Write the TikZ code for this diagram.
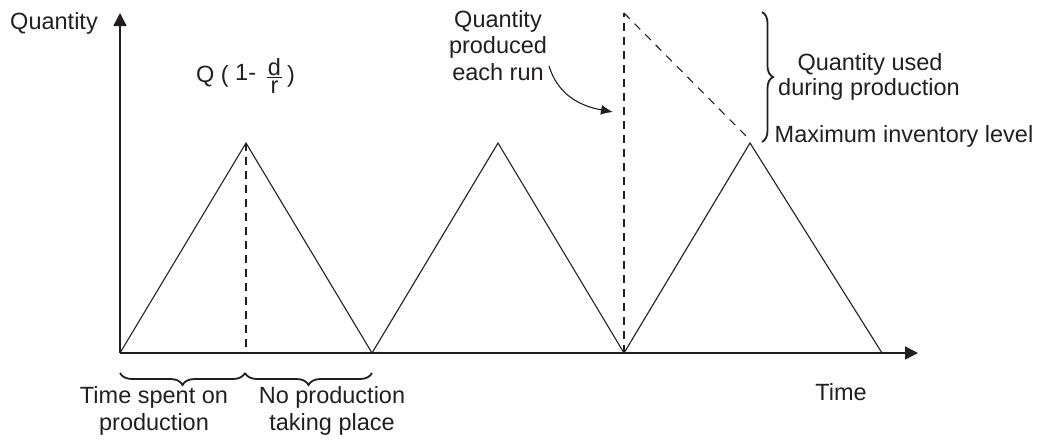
\documentclass[tikz,border=0pt]{standalone}
\usepackage{fontspec}
\setmainfont{Liberation Sans}
\usetikzlibrary{arrows.meta,decorations.pathreplacing}
\definecolor{ink}{RGB}{35,31,32}
\begin{document}
\begin{tikzpicture}[x=1pt,y=-1pt,
  lbl/.style={font=\fontsize{23.5}{28}\selectfont, inner sep=0pt, anchor=base, text=ink},
  axisline/.style={draw=ink, line width=1.6pt, -{Triangle[length=13pt,width=13pt]}},
  stock/.style={draw=ink, line width=1.1pt, line join=miter},
  dashv/.style={draw=ink, line width=1.8pt, dash pattern=on 8pt off 6pt},
  dashd/.style={draw=ink, line width=1.1pt, dash pattern=on 8pt off 7pt},
  pointer/.style={draw=ink, line width=1.1pt, -{Latex[length=12pt,width=10pt]}},
  bracer/.style={draw=ink, line width=1.8pt, decorate, decoration={brace, amplitude=11pt}},
  braced/.style={draw=ink, line width=1.8pt, decorate, decoration={brace, mirror, amplitude=12pt}}]
\useasboundingbox (0,0) rectangle (1043,440);

% key points
\coordinate (O) at (120,353);
\coordinate (ytip) at (120,13);
\coordinate (xtip) at (918,353);
\coordinate (p1) at (246,143);
\coordinate (v1) at (372,353);
\coordinate (p2) at (498,143);
\coordinate (v2) at (624,353);
\coordinate (p3) at (750,143);
\coordinate (e) at (882,353);
\coordinate (b1) at (246,353);
\coordinate (top) at (624,13);
\coordinate (dend) at (747,137);

% axes
\draw[axisline] (O) -- (ytip);
\draw[axisline] (O) -- (xtip);

% inventory saw-tooth
\draw[stock] (O) -- (p1) -- (v1) -- (p2) -- (v2) -- (p3) -- (e);

% dashed lines
\draw[dashv] (p1) -- (b1);
\draw[dashv] (v2) -- (top);
\draw[dashd] (top) -- (dend);

% labels
\node[lbl] (ylab) at (54,29) {Quantity};
\node[lbl] (xlab) at (841,400) {Time};
\node[lbl] (ts1) at (154,403) {Time spent on};
\node[lbl] (ts2) at (154,430) {production};
\node[lbl] (np1) at (332,403) {No production};
\node[lbl] (np2) at (332,430) {taking place};
\node[lbl] (qp1) at (498,27) {Quantity};
\node[lbl] (qp2) at (498,53) {produced};
\node[lbl] (qp3) at (498,80) {each run};
\node[lbl] (qu1) at (870,70) {Quantity used};
\node[lbl] (qu2) at (869,95) {during production};
\node[lbl] (mil) at (904,142) {Maximum inventory level};

% Q(1 - d/r)
\node[lbl, anchor=base west] (qa) at (196,82) {Q (};
\node[lbl, anchor=base west] (one) at (235,80) {1-};
\node[lbl, anchor=center] (frac) at (274.5,76.1)
  {\vbox{\hbox to 15pt{\hss d\hss}\kern1pt\hrule height 1.2pt\kern3pt\hbox to 15pt{\hss r\hss}}};
\node[lbl, anchor=base west] (cp) at (287,82) {)};

% curved pointer
\coordinate (cs) at (549,66);
\coordinate (ce) at (613,112);
\draw[pointer] (cs) .. controls (558,95) and (580,106) .. (ce);

% braces
\coordinate (bt) at (762,12);
\coordinate (bb) at (762,142);
\draw[bracer] (bt) -- (bb);
\coordinate (l1) at (120,373);
\coordinate (l2) at (245,373);
\coordinate (l3) at (372,373);
\draw[braced] (l1) -- (l2);
\draw[braced] (l2) -- (l3);
\end{tikzpicture}
\end{document}
